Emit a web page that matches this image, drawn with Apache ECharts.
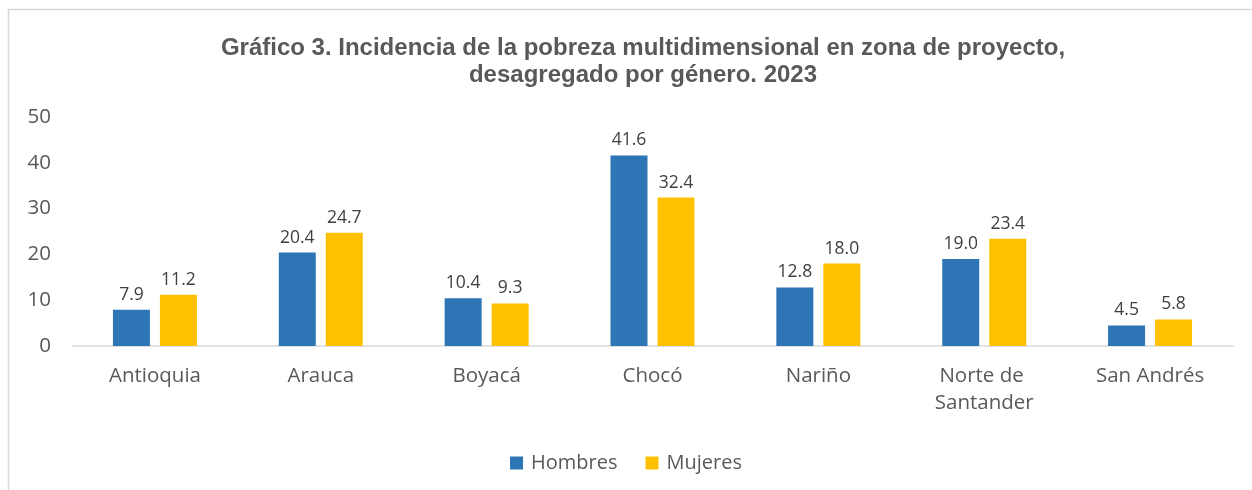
<!DOCTYPE html>
<html>
<head>
<meta charset="utf-8">
<script src="https://cdn.jsdelivr.net/npm/echarts@6/dist/echarts.min.js"></script>
<style>html,body{margin:0;padding:0;background:#fff;}#c{width:1252px;height:490px;}</style>
</head>
<body>
<div id="c"></div>
<script>
const categories = ["Antioquia", "Arauca", "Boyacá", "Chocó", "Nariño", "Norte de Santander", "San Andrés"];
const hombres = [7.9, 20.4, 10.4, 41.6, 12.8, 19.0, 4.5];
const mujeres = [11.2, 24.7, 9.3, 32.4, 18.0, 23.4, 5.8];
const yTicks = [0, 10, 20, 30, 40, 50];
const titleText = "Gráfico 3. Incidencia de la pobreza multidimensional en zona de proyecto,\ndesagregado por género. 2023";

const chart = echarts.init(document.getElementById('c'));
const font = "Open Sans, Noto Sans, sans-serif";
chart.setOption({
  animation: false,
  backgroundColor: '#fff',
  graphic: [{
    type: 'rect', shape: {x: 8.5, y: 9.5, width: 1300, height: 600},
    style: {fill: 'none', stroke: '#d9d9d9', lineWidth: 1.5}, silent: true
  }],
  title: {
    text: titleText,
    left: 638, top: 30, textAlign: 'center',
    textStyle: {fontFamily: 'Liberation Sans, Arial, sans-serif', fontWeight: 'bold', fontSize: 24, color: '#595959', lineHeight: 27, align: 'center'}
  },
  legend: {
    data: ['Hombres', 'Mujeres'], left: 'center', top: 448,
    itemWidth: 13, itemHeight: 13, itemGap: 28, icon: 'rect',
    textStyle: {fontFamily: font, fontSize: 20, color: '#595959', padding: [0, 0, 0, 3]}
  },
  grid: {left: 72, right: 19, top: 117, bottom: 144, containLabel: false},
  xAxis: {
    type: 'category', data: categories,
    axisLine: {lineStyle: {color: '#d9d9d9', width: 1.5}},
    axisTick: {show: false},
    axisLabel: {fontFamily: font, fontSize: 20.5, color: '#595959', margin: 17, width: 150, overflow: 'break', lineHeight: 27, interval: 0}
  },
  yAxis: {
    type: 'value', min: yTicks[0], max: yTicks[yTicks.length - 1], interval: 10,
    splitLine: {show: false}, axisLine: {show: false}, axisTick: {show: false},
    axisLabel: {fontFamily: font, fontSize: 20.5, color: '#595959', margin: 21}
  },
  series: [
    {name: 'Hombres', type: 'bar', data: hombres, barWidth: 37, barGap: '27%',
     itemStyle: {color: '#2e75b6'},
     label: {show: true, position: 'top', distance: 6, formatter: p => p.value.toFixed(1), fontFamily: font, fontSize: 17.5, color: '#404040'}},
    {name: 'Mujeres', type: 'bar', data: mujeres, barWidth: 37,
     itemStyle: {color: '#ffc000'},
     label: {show: true, position: 'top', distance: 6, formatter: p => p.value.toFixed(1), fontFamily: font, fontSize: 17.5, color: '#404040'}}
  ]
});
</script>
</body>
</html>
